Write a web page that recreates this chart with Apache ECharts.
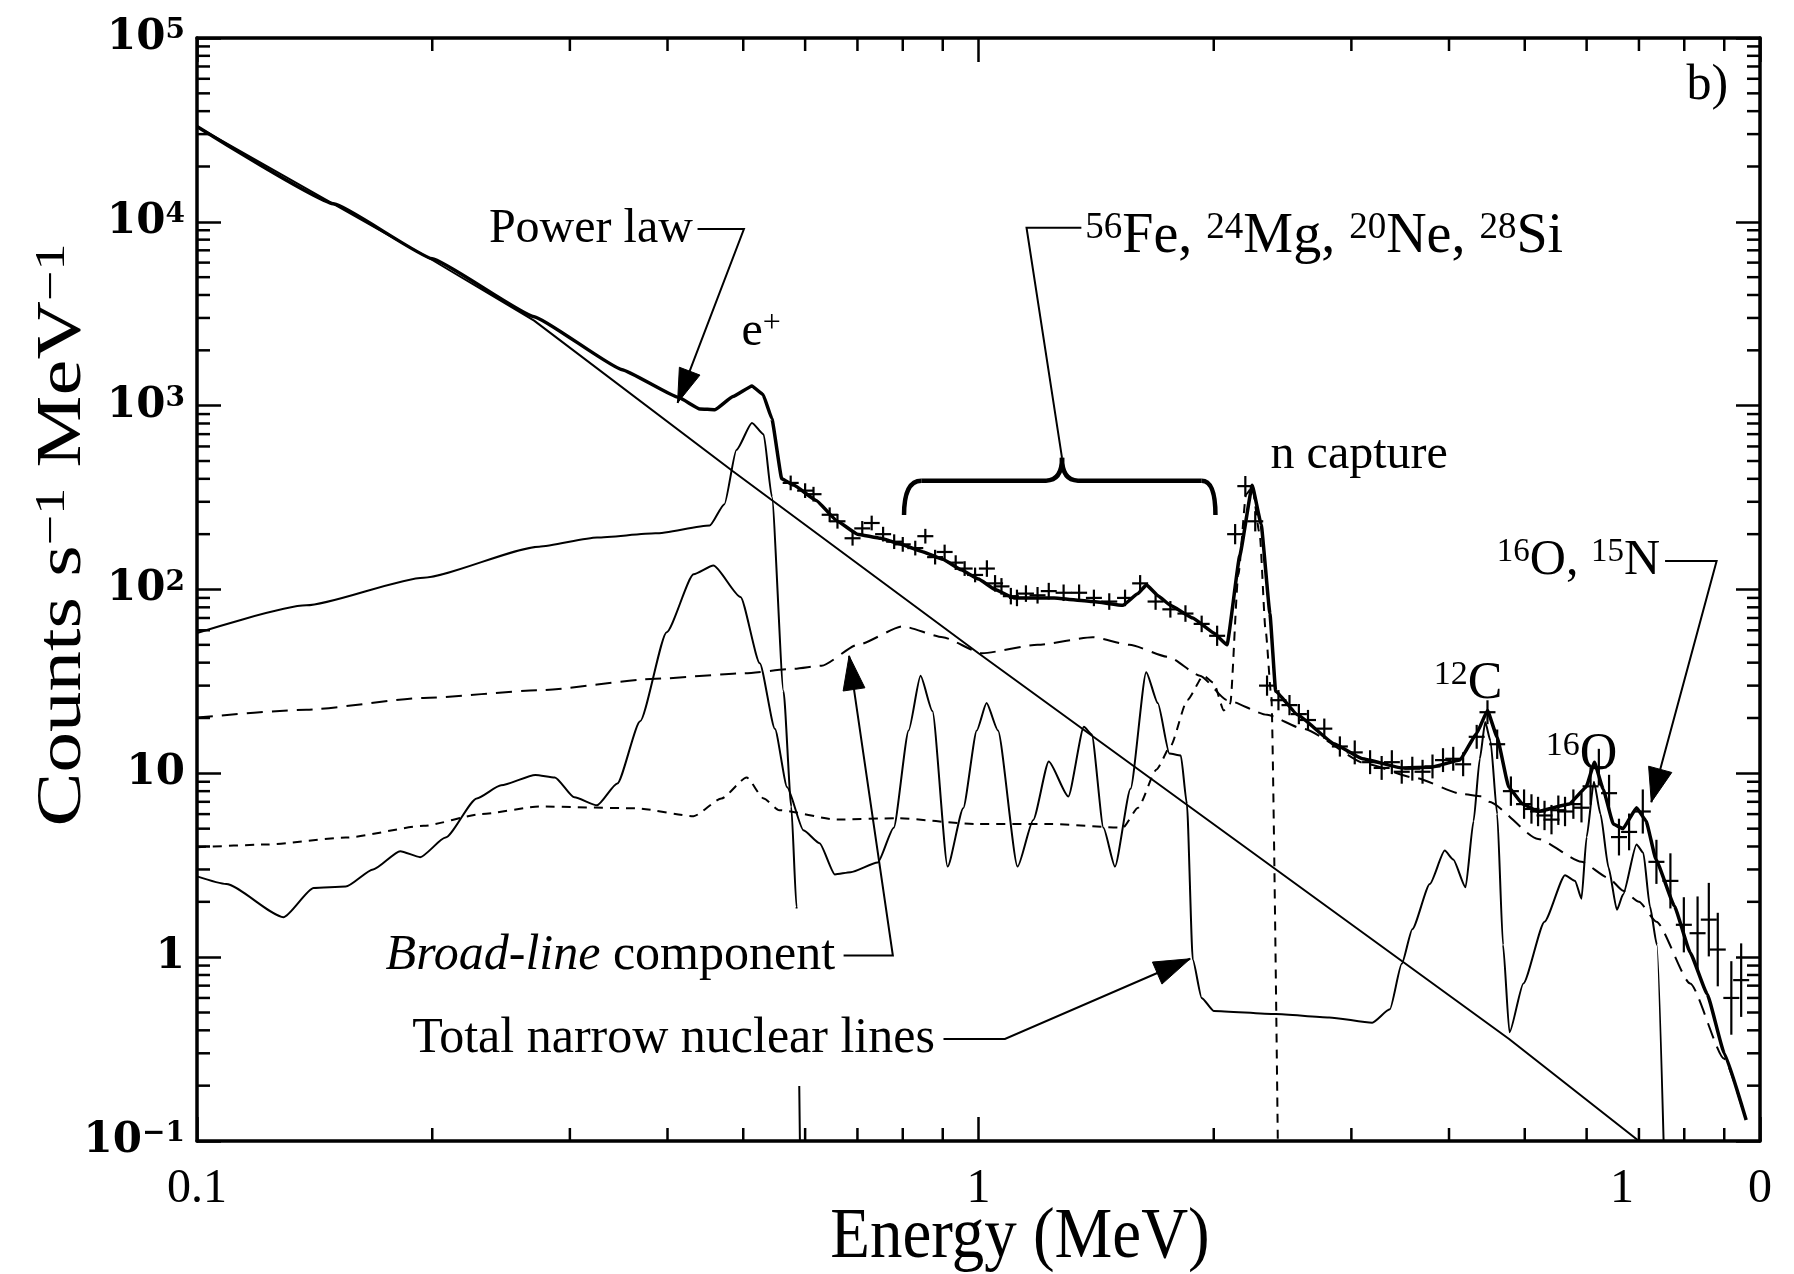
<!DOCTYPE html>
<html>
<head>
<meta charset="utf-8">
<title>Gamma-ray flare spectrum</title>
<script src="https://cdn.jsdelivr.net/npm/echarts@6/dist/echarts.min.js"></script>
<style>
  html, body { margin: 0; padding: 0; background: #fff; }
  #chart { width: 1794px; height: 1274px; }
</style>
</head>
<body>
<div id="chart"></div>
<script>
// Energies in MeV, rates in counts s^-1 MeV^-1.

// Total fitted spectrum (heavy line)
const totalFit = [
  [0.100, 33000], [0.150, 12500], [0.200, 6300], [0.270, 3050], [0.350, 1570],
  [0.413, 1110], [0.440, 960], [0.460, 950], [0.485, 1120], [0.513, 1280],
  [0.530, 1150], [0.544, 850], [0.560, 400], [0.580, 370], [0.620, 305],
  [0.660, 235], [0.700, 200], [0.750, 190], [0.790, 178], [0.850, 160],
  [0.900, 146], [0.950, 128], [1.000, 114], [1.050, 100], [1.110, 90],
  [1.250, 90], [1.400, 86], [1.530, 82], [1.600, 95], [1.640, 106],
  [1.700, 92], [1.760, 82], [1.880, 70], [2.000, 58], [2.080, 50],
  [2.160, 154], [2.240, 369], [2.300, 226], [2.360, 74], [2.400, 28],
  [2.560, 20.8], [2.850, 14.5], [3.100, 12], [3.480, 10.7], [3.800, 10.8],
  [4.130, 11.8], [4.340, 16.5], [4.480, 22], [4.610, 15.7], [4.770, 8.4],
  [4.970, 6.8], [5.200, 6.2], [5.700, 6.8], [5.990, 8.4], [6.140, 11.5],
  [6.300, 8.2], [6.490, 5.3], [6.680, 5.0], [6.950, 6.5], [7.150, 5.5],
  [7.360, 3.4], [7.770, 1.9], [8.140, 1.06], [8.560, 0.63], [9.000, 0.30],
  [9.600, 0.13]
];

// Measured rates: [energy, rate, half-length of the error bar in decades]
const dataPoints = [
  [0.575, 380, 0.04], [0.600, 345, 0.04], [0.615, 330, 0.04], [0.645, 255, 0.04],
  [0.660, 235, 0.04], [0.690, 190, 0.04], [0.710, 215, 0.04], [0.730, 230, 0.04],
  [0.755, 200, 0.04], [0.780, 182, 0.04], [0.800, 176, 0.04], [0.830, 168, 0.04],
  [0.855, 195, 0.04], [0.880, 150, 0.04], [0.905, 160, 0.04], [0.935, 140, 0.04],
  [0.960, 130, 0.04], [0.990, 120, 0.04],
  [1.025, 130, 0.045], [1.050, 108, 0.045], [1.070, 104, 0.045], [1.100, 92, 0.045],
  [1.120, 90, 0.045], [1.150, 95, 0.045], [1.190, 93, 0.045], [1.230, 98, 0.045],
  [1.285, 96, 0.045], [1.345, 96, 0.045], [1.405, 90, 0.045], [1.470, 86, 0.045],
  [1.540, 90, 0.045], [1.610, 108, 0.045], [1.685, 86, 0.045], [1.760, 78, 0.045],
  [1.840, 74, 0.045], [1.930, 65, 0.045],
  [2.020, 56, 0.055], [2.130, 200, 0.055], [2.195, 365, 0.055], [2.260, 235, 0.055],
  [2.340, 30, 0.055], [2.420, 25, 0.055], [2.500, 23.5, 0.055], [2.570, 21, 0.055],
  [2.640, 19.5, 0.055], [2.770, 17.5, 0.055], [2.900, 14, 0.055],
  [3.030, 13, 0.065], [3.170, 11.5, 0.065], [3.280, 10.7, 0.065], [3.380, 11.5, 0.065],
  [3.480, 10.2, 0.065], [3.590, 10.6, 0.065], [3.700, 10.2, 0.065], [3.810, 10.9, 0.065],
  [3.930, 11.8, 0.065], [4.050, 12.0, 0.065], [4.170, 11.2, 0.065], [4.340, 15.8, 0.065],
  [4.480, 21.5, 0.065],
  [4.610, 14.4, 0.08], [4.800, 8.0, 0.08], [4.990, 6.8, 0.08], [5.100, 6.4, 0.08],
  [5.200, 6.2, 0.08], [5.300, 5.9, 0.08], [5.410, 5.6, 0.08], [5.520, 6.3, 0.08],
  [5.630, 6.2, 0.08], [5.770, 6.8, 0.08], [5.910, 6.5, 0.08],
  [6.070, 8.5, 0.10], [6.220, 10.8, 0.10], [6.410, 7.8, 0.10], [6.600, 4.5, 0.10],
  [6.800, 4.8, 0.10],
  [7.080, 6.2, 0.12], [7.370, 3.3, 0.12], [7.680, 2.6, 0.15], [7.990, 1.5, 0.15],
  [8.320, 1.35, 0.20], [8.600, 1.6, 0.20], [8.830, 1.1, 0.20], [9.190, 0.6, 0.20],
  [9.460, 0.75, 0.20]
];

// Bremsstrahlung power law
const powerLaw = [
  [0.100, 33000], [0.150, 12400], [0.200, 6200], [0.270, 2900], [0.485, 440],
  [1.000, 45], [4.770, 0.36], [7.000, 0.10]
];

// Positron annihilation line with positronium continuum
const positronComp = [
  [0.100, 58], [0.138, 82], [0.195, 116], [0.274, 171], [0.325, 192], [0.386, 202],
  [0.453, 223], [0.473, 291], [0.490, 574], [0.513, 805], [0.531, 697], [0.544, 320],
  [0.563, 28], [0.576, 6.6], [0.585, 1.87], [0.592, 0.05]
];

// Broad-line component
const broadLines = [
  [0.100, 20.1], [0.138, 22.2], [0.195, 25.7], [0.274, 28.3], [0.386, 32.7],
  [0.500, 35], [0.580, 37], [0.630, 38.5], [0.700, 50], [0.800, 63], [0.900, 55],
  [1.010, 45], [1.190, 50], [1.400, 55], [1.560, 50], [1.750, 43], [1.920, 34],
  [2.080, 25], [2.340, 20.8], [2.600, 17.5], [3.150, 11.2], [3.600, 9.5],
  [4.170, 7.7], [4.400, 7.5], [4.500, 7.0], [5.200, 4.4], [5.910, 3.3],
  [6.400, 2.7], [6.680, 2.3], [7.000, 2.0], [7.370, 1.56], [8.140, 0.72],
  [9.000, 0.28], [9.540, 0.14]
];

// 2.223 MeV neutron-capture line with its Compton continuum
const neutronCapture = [
  [0.100, 3.96], [0.123, 4.1], [0.155, 4.47], [0.195, 5.18], [0.231, 6.0],
  [0.274, 6.6], [0.365, 6.45], [0.432, 5.85], [0.469, 7.3], [0.505, 9.5],
  [0.531, 7.3], [0.556, 6.3], [0.660, 5.6], [0.786, 5.7], [0.990, 5.3],
  [1.240, 5.3], [1.530, 5.06], [1.600, 6.5], [1.690, 10.5], [1.760, 14],
  [1.850, 25], [1.940, 34], [2.000, 31], [2.060, 22], [2.100, 24], [2.150, 120],
  [2.200, 330], [2.240, 360], [2.290, 200], [2.330, 60], [2.370, 26], [2.420, 0.05]
];

// Sum of the narrow nuclear de-excitation lines
const narrowLines = [
  [0.100, 2.75], [0.109, 2.5], [0.129, 1.65], [0.141, 2.38], [0.155, 2.42],
  [0.168, 3.0], [0.182, 3.77], [0.193, 3.5], [0.208, 4.47], [0.228, 7.3],
  [0.245, 8.6], [0.271, 9.8], [0.287, 9.5], [0.304, 7.4], [0.325, 6.7],
  [0.345, 8.8], [0.369, 19.2], [0.399, 58.6], [0.432, 121], [0.458, 135],
  [0.496, 91], [0.525, 39.7], [0.549, 17.4], [0.569, 8.4], [0.597, 4.9],
  [0.626, 4.17], [0.655, 2.82], [0.686, 2.9], [0.743, 3.27], [0.779, 5.06],
  [0.814, 17.1], [0.843, 33.9], [0.873, 21.8], [0.913, 3.11], [0.956, 6.46],
  [0.995, 17.1], [1.024, 24.1], [1.059, 17.1], [1.122, 3.11], [1.175, 5.58],
  [1.230, 11.6], [1.303, 7.48], [1.364, 17.9], [1.396, 16.3], [1.445, 5.06],
  [1.495, 3.11], [1.565, 8.24], [1.639, 35.5], [1.696, 24.1], [1.755, 12.8],
  [1.815, 12.5], [1.848, 6.8], [1.880, 0.97], [1.930, 0.6], [2.000, 0.51],
  [2.400, 0.49], [2.810, 0.47], [3.190, 0.44], [3.360, 0.52], [3.480, 0.92],
  [3.590, 1.42], [3.780, 2.5], [3.950, 3.8], [4.050, 3.4], [4.200, 2.4],
  [4.300, 5.5], [4.380, 12], [4.450, 19], [4.520, 15], [4.610, 6.0],
  [4.690, 1.17], [4.780, 0.39], [4.980, 0.72], [5.300, 1.56], [5.630, 2.79],
  [5.800, 2.6], [5.910, 2.08], [6.000, 4.5], [6.130, 9.0], [6.250, 6.0],
  [6.400, 3.07], [6.560, 1.81], [6.680, 2.19], [6.950, 4.1], [7.090, 3.7],
  [7.230, 1.89], [7.380, 1.17], [7.560, 0.05]
];

// Minor tick positions
const xMinorTicks = [0.2, 0.3, 0.4, 0.5, 0.6, 0.7, 0.8, 0.9, 2, 3, 4, 5, 6, 7, 8, 9];
const yMinorTicks = [
  0.2, 0.3, 0.4, 0.5, 0.6, 0.7, 0.8, 0.9,
  2, 3, 4, 5, 6, 7, 8, 9,
  20, 30, 40, 50, 60, 70, 80, 90,
  200, 300, 400, 500, 600, 700, 800, 900,
  2000, 3000, 4000, 5000, 6000, 7000, 8000, 9000,
  20000, 30000, 40000, 50000, 60000, 70000, 80000, 90000
];

const SERIF = 'Liberation Serif';
const BLACK = '#000';
const X_MIN = 0.1, X_MAX = 10, Y_MIN = 0.1, Y_MAX = 1e5;

const chart = echarts.init(document.getElementById('chart'), null, { renderer: 'canvas' });

function xLabel(v) {
  const e = Math.round(Math.log10(v));
  if (e === -1) return '0.1';
  if (e === 0) return '1';
  return '0';
}
function yLabel(v) {
  const e = Math.round(Math.log10(v));
  if (e === 0) return '{b|1}';
  if (e === 1) return '{b|10}';
  return '{b|10}{s|' + (e < 0 ? '\u2212' + (-e) : e) + '}';
}

const frameLine = { show: true, lineStyle: { color: BLACK, width: 3.5 } };
const majorTick = { show: true, inside: true, length: 24, lineStyle: { color: BLACK, width: 2.5 } };

function lineSeries(data, width, type, smooth) {
  return {
    type: 'line', data: data, xAxisIndex: 0, yAxisIndex: 0,
    symbol: 'none', showSymbol: false, clip: true, silent: true,
    smooth: smooth || false, smoothMonotone: 'x',
    lineStyle: { color: BLACK, width: width, type: type || 'solid' },
    z: 3
  };
}

const option = {
  animation: false,
  backgroundColor: '#fff',
  grid: { left: 197, right: 34, top: 38, bottom: 133 },
  xAxis: [
    {
      type: 'log', logBase: 10, min: X_MIN, max: X_MAX, position: 'bottom',
      axisLine: frameLine, axisTick: majorTick, splitLine: { show: false },
      axisLabel: {
        formatter: xLabel, color: BLACK, fontFamily: SERIF, fontSize: 48,
        margin: 24, showMinLabel: true, showMaxLabel: true
      }
    },
    {
      type: 'log', logBase: 10, min: X_MIN, max: X_MAX, position: 'top',
      axisLine: frameLine, axisTick: majorTick, splitLine: { show: false },
      axisLabel: { show: false }
    }
  ],
  yAxis: [
    {
      type: 'log', logBase: 10, min: Y_MIN, max: Y_MAX, position: 'left', splitNumber: 6,
      axisLine: frameLine, axisTick: majorTick, splitLine: { show: false },
      axisLabel: {
        formatter: yLabel, color: BLACK, margin: 12, showMinLabel: true, showMaxLabel: true,
        rich: {
          b: { fontFamily: 'DejaVu Serif', fontWeight: 'bold', fontSize: 42, color: BLACK, verticalAlign: 'bottom' },
          s: { fontFamily: 'DejaVu Serif', fontWeight: 'bold', fontSize: 28, color: BLACK, verticalAlign: 'top' }
        }
      }
    },
    {
      type: 'log', logBase: 10, min: Y_MIN, max: Y_MAX, position: 'right', splitNumber: 6,
      axisLine: frameLine, axisTick: majorTick, splitLine: { show: false },
      axisLabel: { show: false }
    }
  ],
  series: [
    // minor ticks along the bottom and top edges
    {
      type: 'custom', xAxisIndex: 0, yAxisIndex: 0, silent: true, clip: false,
      data: xMinorTicks.map(function (v) { return [v, 1]; }),
      encode: { x: 0, y: 1 },
      renderItem: function (params, api) {
        const b = api.coord([api.value(0), Y_MIN]);
        const t = api.coord([api.value(0), Y_MAX]);
        const st = { stroke: BLACK, lineWidth: 2.5 };
        return { type: 'group', children: [
          { type: 'line', shape: { x1: b[0], y1: b[1], x2: b[0], y2: b[1] - 13 }, style: st },
          { type: 'line', shape: { x1: t[0], y1: t[1], x2: t[0], y2: t[1] + 13 }, style: st }
        ] };
      }
    },
    // minor ticks along the left and right edges
    {
      type: 'custom', xAxisIndex: 0, yAxisIndex: 0, silent: true, clip: false,
      data: yMinorTicks.map(function (v) { return [1, v]; }),
      encode: { x: 0, y: 1 },
      renderItem: function (params, api) {
        const l = api.coord([X_MIN, api.value(1)]);
        const r = api.coord([X_MAX, api.value(1)]);
        const st = { stroke: BLACK, lineWidth: 2.5 };
        return { type: 'group', children: [
          { type: 'line', shape: { x1: l[0], y1: l[1], x2: l[0] + 13, y2: l[1] }, style: st },
          { type: 'line', shape: { x1: r[0], y1: r[1], x2: r[0] - 13, y2: r[1] }, style: st }
        ] };
      }
    },
    lineSeries(powerLaw, 2),
    lineSeries(positronComp, 2, 'solid', 0.2),
    lineSeries(narrowLines, 2, 'solid', 0.2),
    lineSeries(broadLines, 2, [16, 9], 0.2),
    lineSeries(neutronCapture, 2, [9, 7], 0.2),
    lineSeries(totalFit, 3.5, 'solid', 0.1),
    // measured points with error bars
    {
      type: 'custom', xAxisIndex: 0, yAxisIndex: 0, silent: true, clip: true, z: 4,
      data: dataPoints,
      encode: { x: 0, y: 1 },
      renderItem: function (params, api) {
        const e = api.value(0), v = api.value(1), d = api.value(2);
        const c = api.coord([e, v]);
        const lo = api.coord([e, v / Math.pow(10, d)]);
        const hi = api.coord([e, v * Math.pow(10, d)]);
        const st = { stroke: BLACK, lineWidth: 2.2 };
        return { type: 'group', children: [
          { type: 'line', shape: { x1: c[0], y1: lo[1], x2: c[0], y2: hi[1] }, style: st },
          { type: 'line', shape: { x1: c[0] - 8, y1: c[1], x2: c[0] + 8, y2: c[1] }, style: st }
        ] };
      }
    }
  ]
};

chart.setOption(option);

// ----- annotations, anchored in data coordinates -----
const P = function (e, v) { return chart.convertToPixel({ xAxisIndex: 0, yAxisIndex: 0 }, [e, v]); };
const Z = 100;

function label(pos, text, size, align, extra) {
  const sup = Math.round(size * 0.66);
  const style = Object.assign({
    text: text,
    fill: BLACK,
    fontFamily: SERIF,
    fontSize: size,
    align: align || 'center', textAlign: align || 'center',
    verticalAlign: 'middle', textVerticalAlign: 'middle',
    rich: {
      b: { fontFamily: SERIF, fontSize: size, fill: BLACK, color: BLACK, verticalAlign: 'bottom' },
      i: { fontFamily: SERIF, fontSize: size, fontStyle: 'italic', fill: BLACK, color: BLACK, verticalAlign: 'bottom' },
      s: { fontFamily: SERIF, fontSize: sup, fill: BLACK, color: BLACK, verticalAlign: 'top' }
    }
  }, extra || {});
  return { type: 'text', x: pos[0], y: pos[1], z: Z, style: style, silent: true };
}
function poly(points, w) {
  return { type: 'polyline', z: Z, silent: true, shape: { points: points },
    style: { stroke: BLACK, lineWidth: w || 2, fill: null } };
}
function seg(a, b, w) {
  return { type: 'line', z: Z, silent: true,
    shape: { x1: a[0], y1: a[1], x2: b[0], y2: b[1] },
    style: { stroke: BLACK, lineWidth: w || 2 } };
}
function curve(a, cp, b, w) {
  return { type: 'bezierCurve', z: Z, silent: true,
    shape: { x1: a[0], y1: a[1], x2: b[0], y2: b[1], cpx1: cp[0], cpy1: cp[1] },
    style: { stroke: BLACK, lineWidth: w || 2, fill: null } };
}
function arrowHead(from, tip, len, half) {
  len = len || 30; half = half || 10;
  const dx = tip[0] - from[0], dy = tip[1] - from[1];
  const L = Math.hypot(dx, dy), ux = dx / L, uy = dy / L;
  const bx = tip[0] - ux * len, by = tip[1] - uy * len;
  return { type: 'polygon', z: Z + 1, silent: true,
    shape: { points: [tip, [bx - uy * half, by + ux * half], [bx + uy * half, by - ux * half]] },
    style: { fill: BLACK, stroke: BLACK, lineWidth: 1 } };
}

const g = [];

// Power law
{
  const tip = P(0.412, 1035), knee = P(0.501, 9140);
  g.push(label(P(0.431, 9140), 'Power law', 48, 'right'));
  g.push(poly([P(0.437, 9140), knee, tip], 2));
  g.push(arrowHead(knee, tip, 34, 11));
}

// e+
g.push(label(P(0.527, 2518), '{b|e}{s|+}', 48, 'center'));

// brace over the 56Fe ... 28Si lines
{
  const bar = P(1.279, 391)[1];
  const L = P(0.803, 254), LC = P(0.845, 391), C = P(1.279, 391), CT = P(1.279, 520);
  const RC = P(1.93, 391), R = P(2.01, 254);
  const W = 4.5;
  g.push(curve(L, [L[0], bar], [LC[0], bar], W));
  g.push(seg([LC[0], bar], [C[0] - 16, bar], W));
  g.push(curve([C[0] - 16, bar], [C[0], bar], [C[0], CT[1]], W));
  g.push(curve([C[0], CT[1]], [C[0], bar], [C[0] + 16, bar], W));
  g.push(seg([C[0] + 16, bar], [RC[0], bar], W));
  g.push(curve([RC[0], bar], [R[0], bar], R, W));
  g.push(poly([CT, P(1.152, 9300), P(1.354, 9300)], 2));
  g.push(label(P(1.37, 8200), '{s|56}{b|Fe, }{s|24}{b|Mg, }{s|20}{b|Ne, }{s|28}{b|Si}', 56, 'left'));
}

// neutron capture
g.push(label(P(3.07, 536), 'n capture', 48, 'center'));

// panel tag
g.push(label(P(8.56, 54800), 'b)', 50, 'center'));

// 16O, 15N
{
  const knee = P(8.80, 143), tip = P(7.26, 6.97);
  g.push(label(P(7.45, 143), '{s|16}{b|O, }{s|15}{b|N}', 50, 'right'));
  g.push(poly([P(7.56, 143), knee, tip], 2));
  g.push(arrowHead(knee, tip, 34, 12));
}

// 12C, 16O
g.push(label(P(4.23, 30.5), '{s|12}{b|C}', 52, 'center'));
g.push(label(P(5.91, 12.5), '{s|16}{b|O}', 52, 'center'));

// Broad-line component
{
  const knee = P(0.777, 1.02), tip = P(0.683, 43.6);
  g.push(label(P(0.667, 1.02), '{i|Broad-line}{b| component}', 50, 'right',
    { backgroundColor: '#fff', padding: [22, 6, 22, 6] }));
  g.push(poly([P(0.672, 1.02), knee, tip], 2));
  g.push(arrowHead(knee, tip, 34, 11));
}

// Total narrow nuclear lines
{
  const knee = P(1.081, 0.359), tip = P(1.866, 0.98);
  g.push(label(P(0.895, 0.359), 'Total narrow nuclear lines', 50, 'right',
    { backgroundColor: '#fff', padding: [22, 6, 22, 6] }));
  g.push(poly([P(0.902, 0.359), knee, tip], 2));
  g.push(arrowHead(knee, tip, 36, 12));
}

// axis titles (tall, narrow lettering)
g.push({
  type: 'text', x: 63, y: 535, rotation: Math.PI / 2, scaleX: 1.35, scaleY: 1.05, z: Z, silent: true,
  style: {
    text: '{b|Counts s}{s|\u22121}{b| MeV}{s|\u22121}',
    align: 'center', textAlign: 'center', verticalAlign: 'middle', textVerticalAlign: 'middle',
    fill: BLACK,
    rich: {
      b: { fontFamily: SERIF, fontSize: 60, fill: BLACK, color: BLACK, verticalAlign: 'bottom' },
      s: { fontFamily: SERIF, fontSize: 40, fill: BLACK, color: BLACK, verticalAlign: 'top' }
    }
  }
});
{
  const mid = P(1.13, Y_MIN);
  g.push({
    type: 'text', x: mid[0], y: 1238, scaleX: 1.12, scaleY: 1.25, z: Z, silent: true,
    style: {
      text: 'Energy (MeV)', fill: BLACK, fontFamily: SERIF, fontSize: 58,
      align: 'center', textAlign: 'center', verticalAlign: 'middle', textVerticalAlign: 'middle'
    }
  });
}

// stray digit printed on the energy scale
{
  const base = P(6.66, Y_MIN);
  g.push({ type: 'text', x: base[0], y: base[1] + 24, z: Z, silent: true,
    style: { text: '1', fill: BLACK, fontFamily: SERIF, fontSize: 48,
      align: 'center', textAlign: 'center', verticalAlign: 'top', textVerticalAlign: 'top' } });
}

chart.setOption({ graphic: { elements: g } });
</script>
</body>
</html>
